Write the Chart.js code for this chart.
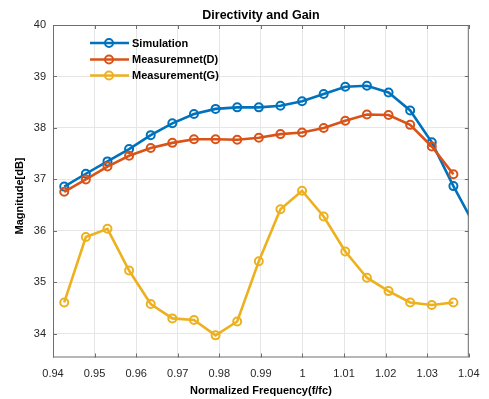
<!DOCTYPE html>
<html>
<head>
<meta charset="utf-8">
<script src="https://cdn.jsdelivr.net/npm/chart.js@4.4.1/dist/chart.umd.min.js"></script>
<style>
  html, body { margin: 0; padding: 0; background: #fff; }
  #wrap { width: 489px; height: 399px; }
</style>
</head>
<body>
<div id="wrap"><canvas id="canvas1"></canvas></div>
<script>
// normalized frequency (f/fc)
var freq = [0.9427, 0.9479, 0.9531, 0.9583, 0.9635, 0.9687, 0.9739, 0.9791, 0.9843, 0.9895,
            0.9947, 0.9999, 1.0051, 1.0103, 1.0155, 1.0207, 1.0259, 1.0311, 1.0363];
// simulation has one more sample past the right limit
var simFreq = freq.concat([1.0415]);
var simulation = [36.86, 37.11, 37.35, 37.59, 37.86, 38.09, 38.27, 38.37, 38.40, 38.40,
                  38.43, 38.52, 38.66, 38.80, 38.82, 38.69, 38.34, 37.72, 36.87, 36.09];
var measD = [36.76, 37.00, 37.25, 37.46, 37.61, 37.71, 37.78, 37.78, 37.77, 37.81,
             37.88, 37.91, 38.00, 38.14, 38.26, 38.25, 38.06, 37.64, 37.10];
var measG = [34.61, 35.88, 36.04, 35.23, 34.58, 34.30, 34.27, 33.97, 34.24, 35.41,
             36.42, 36.78, 36.28, 35.60, 35.09, 34.83, 34.61, 34.56, 34.61];
var seriesNames = ['Simulation', 'Measuremnet(D)', 'Measurement(G)'];
var xTicks = [0.94, 0.95, 0.96, 0.97, 0.98, 0.99, 1.00, 1.01, 1.02, 1.03, 1.04];
var yTicks = [34, 35, 36, 37, 38, 39, 40];

var blue = '#0072BD', orange = '#D95319', yellow = '#EDB120';
var FONT = '"Liberation Sans", Arial, sans-serif';

function pts(xs, ys) {
    return ys.map(function(v, i) { return {x: xs[i], y: v}; });
}

function ds(label, data, color, order) {
    return {
        label: label,
        data: data,
        borderColor: color,
        backgroundColor: 'rgba(0,0,0,0)',
        borderWidth: 2.6,
        pointRadius: 4,
        pointBorderWidth: 2,
        pointBackgroundColor: 'rgba(0,0,0,0)',
        pointBorderColor: color,
        tension: 0,
        clip: 0,
        order: order
    };
}

// box, inner ticks, titles and legend the way MATLAB draws them
var matlabBox = {
    id: 'matlabBox',
    afterDraw: function(chart) {
        var c = chart.ctx, a = chart.chartArea;
        var xs = chart.scales.x, ys = chart.scales.y;
        c.save();
        c.strokeStyle = '#6e6e6e';
        c.lineWidth = 1;
        c.strokeRect(a.left + 0.5, a.top + 0.5, a.right - a.left - 1, a.bottom - a.top - 1);
        c.beginPath();
        xTicks.forEach(function(t) {
            var px = Math.round(xs.getPixelForValue(t)) + 0.5;
            c.moveTo(px, a.bottom); c.lineTo(px, a.bottom - 4);
            c.moveTo(px, a.top); c.lineTo(px, a.top + 4);
        });
        yTicks.forEach(function(t) {
            var py = Math.round(ys.getPixelForValue(t)) + 0.5;
            c.moveTo(a.left, py); c.lineTo(a.left + 4, py);
            c.moveTo(a.right, py); c.lineTo(a.right - 4, py);
        });
        c.stroke();

        c.fillStyle = '#000';
        c.font = 'bold 12.5px ' + FONT;
        c.textAlign = 'center';
        c.textBaseline = 'middle';
        c.fillText('Directivity and Gain', 261, 15.5);

        // y axis title
        c.save();
        c.translate(20, 196);
        c.rotate(-Math.PI / 2);
        c.font = 'bold 11px ' + FONT;
        c.fillText('Magnitude[dB]', 0, 0);
        c.restore();

        // legend
        var rows = [43, 59.5, 75.5];
        c.font = 'bold 11px ' + FONT;
        c.textAlign = 'left';
        chart.data.datasets.forEach(function(d, i) {
            var y = rows[i];
            c.strokeStyle = d.borderColor;
            c.lineWidth = 2.6;
            c.beginPath(); c.moveTo(90, y); c.lineTo(129, y); c.stroke();
            c.lineWidth = 2;
            c.beginPath(); c.arc(109, y, 4, 0, Math.PI * 2); c.stroke();
            c.fillStyle = '#000';
            c.fillText(d.label, 132, y + 0.5);
        });
        c.restore();
    }
};

var ctx = document.getElementById('canvas1').getContext('2d');
window.myLine = new Chart(ctx, {
    type: 'line',
    data: {
        datasets: [
            ds(seriesNames[0], pts(simFreq, simulation), blue, 3),
            ds(seriesNames[1], pts(freq, measD), orange, 2),
            ds(seriesNames[2], pts(freq, measG), yellow, 1)
        ]
    },
    options: {
        responsive: true,
        maintainAspectRatio: false,
        animation: false,
        layout: { padding: { left: 0, right: 16, top: 25, bottom: 0 } },
        plugins: {
            legend: { display: false },
            title: { display: false },
            tooltip: { enabled: false }
        },
        scales: {
            x: {
                type: 'linear',
                min: 0.94,
                max: 1.04,
                afterBuildTicks: function(s) { s.ticks = xTicks.map(function(v) { return {value: v}; }); },
                afterFit: function(s) { s.height = 41.5; },
                ticks: {
                    autoSkip: false,
                    maxRotation: 0,
                    padding: 9.5,
                    color: '#262626',
                    font: { family: FONT, size: 11 },
                    callback: function(v) { return String(Number(v.toFixed(2))); }
                },
                grid: { color: '#e6e6e6', drawTicks: false },
                border: { display: false },
                title: {
                    display: true,
                    text: 'Normalized Frequency(f/fc)',
                    color: '#000',
                    font: { family: FONT, size: 11, weight: 'bold' },
                    padding: { top: 0, bottom: 1.5 }
                }
            },
            y: {
                min: 33.54,
                max: 40,
                afterBuildTicks: function(s) { s.ticks = yTicks.map(function(v) { return {value: v}; }); },
                afterFit: function(s) { s.width = 53; },
                ticks: {
                    padding: 7,
                    color: '#262626',
                    font: { family: FONT, size: 11 }
                },
                grid: { color: '#e6e6e6', drawTicks: false },
                border: { display: false }
            }
        }
    },
    plugins: [matlabBox]
});
</script>
</body>
</html>
